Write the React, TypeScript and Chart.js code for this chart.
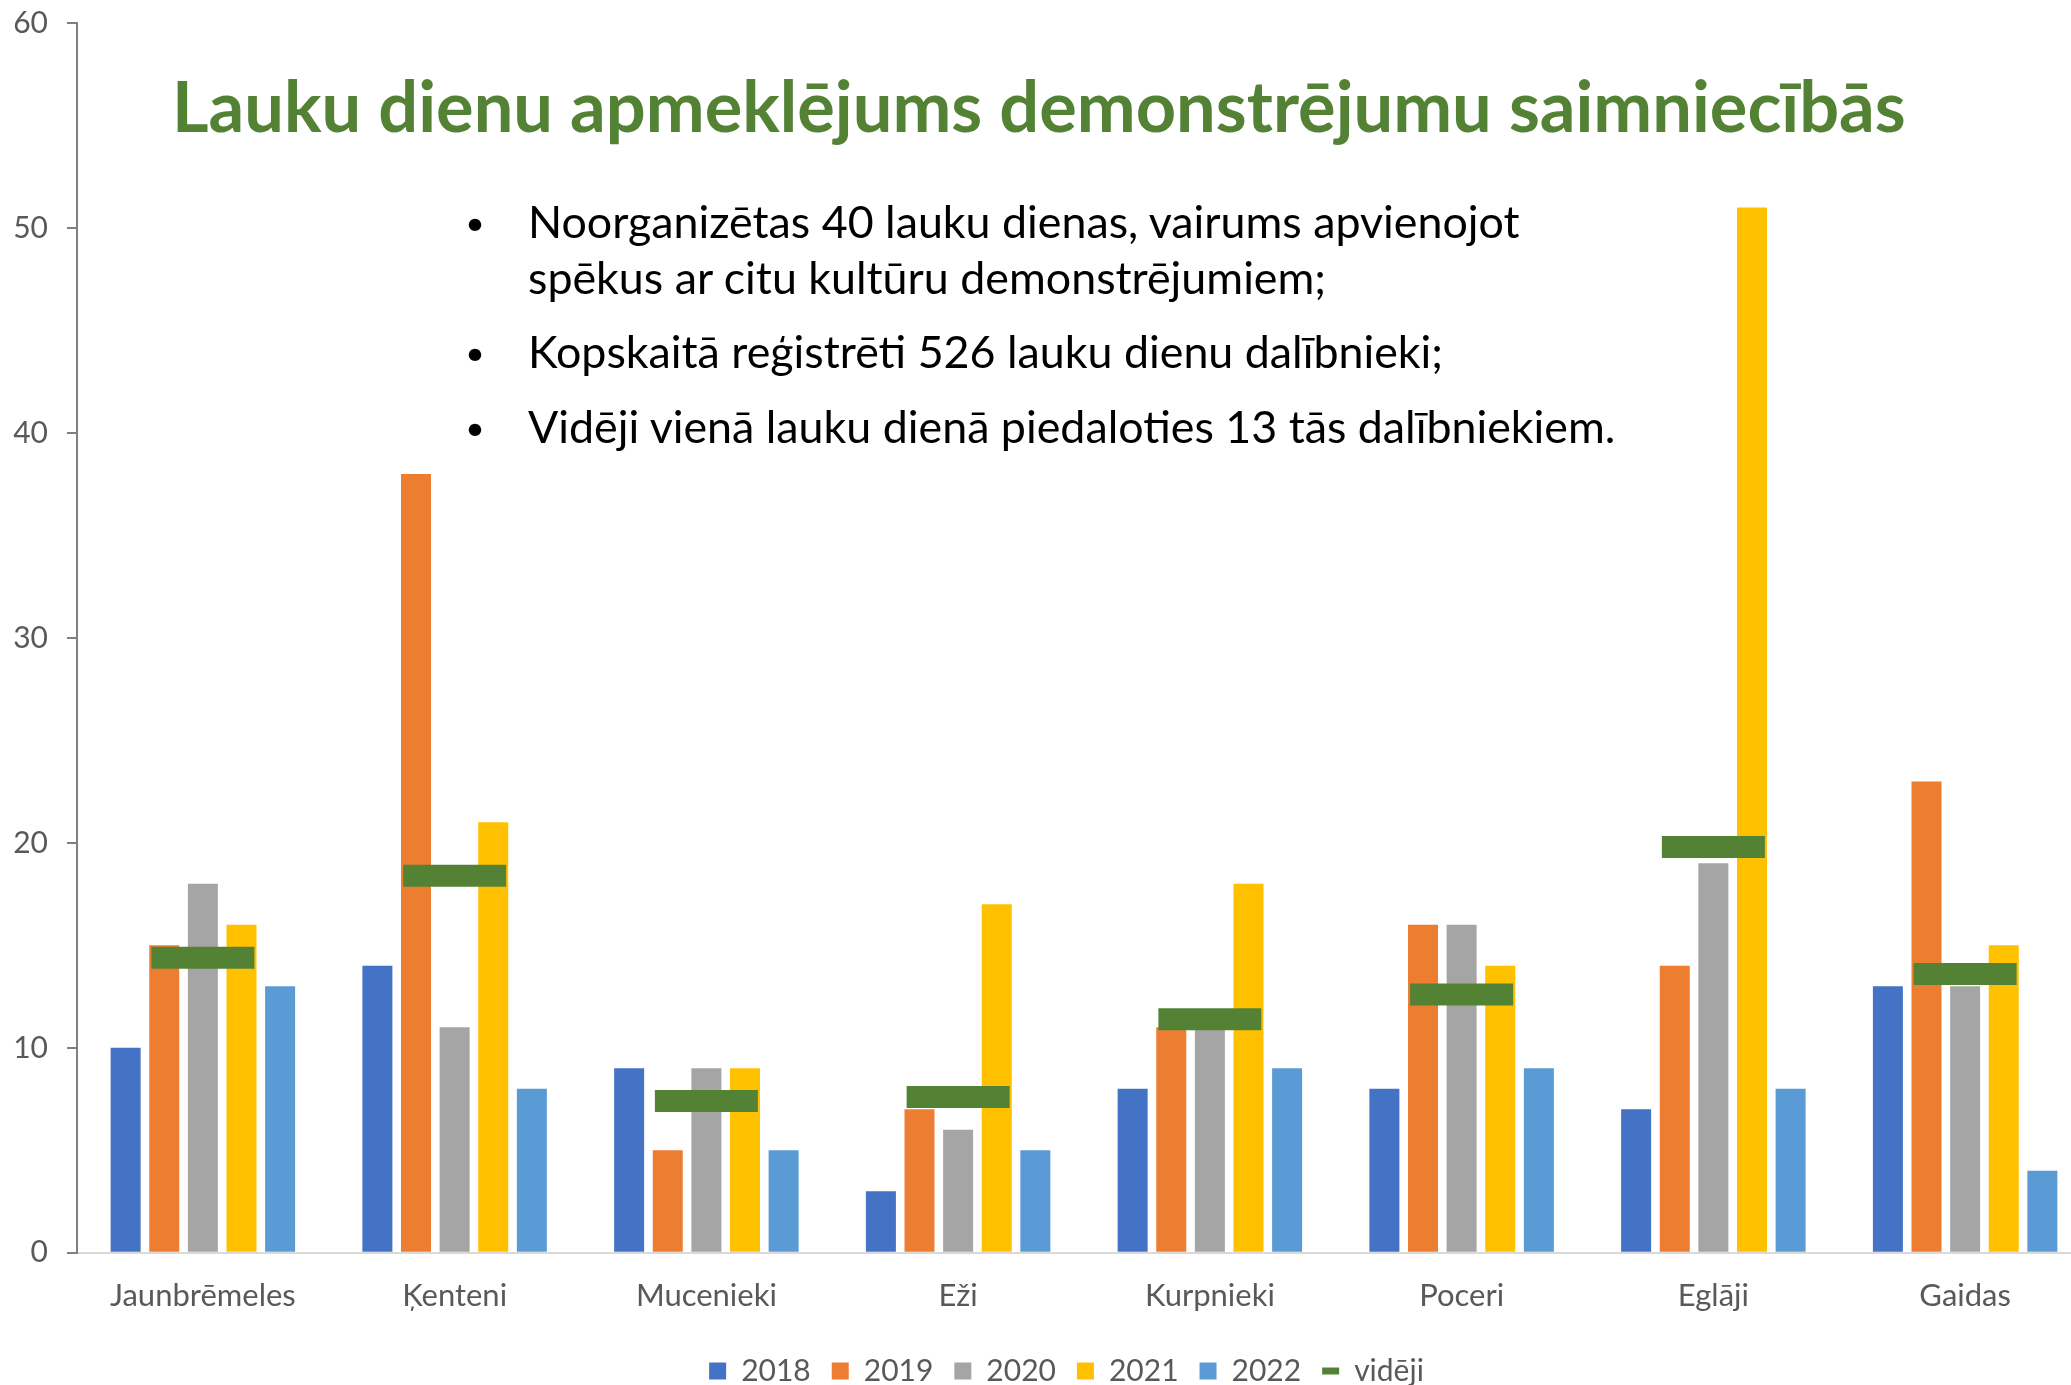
import React, { useEffect, useMemo, useRef } from "react";
import { Chart, registerables } from "chart.js";

Chart.register(...registerables);

const categories = ["Jaunbrēmeles", "Ķenteni", "Mucenieki", "Eži", "Kurpnieki", "Poceri", "Eglāji", "Gaidas"];
const seriesLabels = ["2018", "2019", "2020", "2021", "2022"];
const values2018 = [10, 14, 9, 3, 8, 8, 7, 13];
const values2019 = [15, 38, 5, 7, 11, 16, 14, 23];
const values2020 = [18, 11, 9, 6, 11, 16, 19, 13];
const values2021 = [16, 21, 9, 17, 18, 14, 51, 15];
const values2022 = [13, 8, 5, 5, 9, 9, 8, 4];
const averageLabel = "vidēji";
const averageValues = [14.4, 18.4, 7.4, 7.6, 11.4, 12.6, 19.8, 13.6];
const yTickValues = [0, 10, 20, 30, 40, 50, 60];

const titleText = "Lauku dienu apmeklējums demonstrējumu saimniecībās";
const bulletItems = [
  ["Noorganizētas 40 lauku dienas, vairums apvienojot", "spēkus ar citu kultūru demonstrējumiem;"],
  ["Kopskaitā reģistrēti 526 lauku dienu dalībnieki;"],
  ["Vidēji vienā lauku dienā piedaloties 13 tās dalībniekiem."],
];

const barColors = ["#4472C4", "#ED7D31", "#A5A5A5", "#FFC000", "#5B9BD5"];
const green = "#548235";
const FONT = "Lato, 'Open Sans', sans-serif";

function fitSize(text: string, weight: string, target: number): number {
  const ctx = document.createElement("canvas").getContext("2d");
  if (!ctx) return 40;
  ctx.font = `${weight} 100px Lato`;
  const w = ctx.measureText(text).width;
  return (100 * target) / w;
}

export default function App() {
  const canvasRef = useRef<HTMLCanvasElement | null>(null);

  const titleSize = useMemo(() => fitSize(titleText, "bold", 1734), []);
  const bulletSize = useMemo(() => fitSize(bulletItems[2][0], "normal", 1089), []);

  useEffect(() => {
    const canvas = canvasRef.current;
    if (!canvas) return;
    const allSeries = [values2018, values2019, values2020, values2021, values2022];
    const chart = new Chart(canvas, {
      type: "bar",
      data: {
        labels: categories,
        datasets: [
          ...allSeries.map((d, i) => ({
            type: "bar" as const,
            label: seriesLabels[i],
            data: d,
            backgroundColor: barColors[i],
            borderWidth: 0,
            order: 1,
            categoryPercentage: 0.767,
            barPercentage: 0.777,
          })),
          {
            type: "line" as const,
            label: averageLabel,
            data: averageValues,
            showLine: false,
            pointStyle: "line",
            pointRadius: 51.5,
            pointHoverRadius: 51.5,
            pointBorderWidth: 22,
            pointHoverBorderWidth: 22,
            borderColor: green,
            backgroundColor: green,
            clip: false,
            order: 0,
          } as any,
        ],
      },
      options: {
        responsive: false,
        animation: false,
        layout: { autoPadding: false, padding: { left: 0, right: 41, top: 23, bottom: 0 } },
        plugins: {
          tooltip: { enabled: false },
          legend: {
            position: "bottom",
            labels: {
              usePointStyle: true,
              pointStyleWidth: 17,
              boxWidth: 17,
              boxHeight: 17,
              padding: 21,
              color: "#595959",
              font: { family: FONT, size: 30 },
              generateLabels: (ch: any) => {
                const items = (Chart.defaults.plugins.legend.labels as any).generateLabels(ch);
                items.sort((a: any, b: any) => a.datasetIndex - b.datasetIndex);
                return items.map((it: any) => {
                  const isLine = it.datasetIndex === 5;
                  const col = isLine ? green : barColors[it.datasetIndex];
                  return {
                    ...it,
                    pointStyle: isLine ? "line" : "rect",
                    lineWidth: isLine ? 7 : 0,
                    strokeStyle: col,
                    fillStyle: col,
                    fontColor: "#595959",
                  };
                });
              },
            },
          },
        },
        scales: {
          x: {
            grid: { display: false },
            border: { color: "#D9D9D9", width: 2 },
            ticks: {
              color: "#595959",
              font: { family: FONT, size: 31 },
              padding: 17,
              maxRotation: 0,
              autoSkip: false,
            },
            afterFit: (s: any) => {
              s.height = s.height + 3;
            },
          },
          y: {
            min: 0,
            max: 60,
            grid: { drawOnChartArea: false, drawTicks: true, tickLength: 10, color: "#808080", lineWidth: 2 },
            border: { color: "#808080", width: 2 },
            ticks: {
              color: "#595959",
              font: { family: FONT, size: 30, lineHeight: 0.2 },
              padding: 19,
            },
            afterBuildTicks: (s: any) => {
              s.ticks = yTickValues.map((v) => ({ value: v }));
            },
            afterFit: (s: any) => {
              s.width = 77;
            },
          },
          yRight: {
            position: "right",
            display: true,
            grid: { display: false },
            border: { display: false },
            ticks: { display: false },
            afterFit: (s: any) => {
              s.width = 42;
            },
          },
        },
      },
    } as any);
    return () => chart.destroy();
  }, []);

  const lineCenters = [227, 283, 357, 432];
  let lineIdx = 0;
  const bulletEls: React.ReactNode[] = [];
  bulletItems.forEach((item, bi) => {
    item.forEach((line, li) => {
      const c = lineCenters[lineIdx++];
      const top = c - 0.634 * bulletSize;
      if (li === 0) {
        const ds = bulletSize * 0.75;
        bulletEls.push(
          <div
            key={`d${bi}`}
            style={{
              position: "absolute",
              left: 455,
              width: 40,
              top: c - 0.634 * ds,
              textAlign: "center",
              fontFamily: FONT,
              fontSize: ds,
              lineHeight: 1,
              color: "#000",
            }}
          >
            •
          </div>
        );
      }
      bulletEls.push(
        <div
          key={`l${bi}-${li}`}
          style={{
            position: "absolute",
            left: 528,
            top,
            whiteSpace: "nowrap",
            fontFamily: FONT,
            fontSize: bulletSize,
            lineHeight: 1,
            color: "#000",
          }}
        >
          {line}
        </div>
      );
    });
  });

  return (
    <div
      style={{
        position: "fixed",
        left: 0,
        top: 0,
        width: 2071,
        height: 1385,
        overflow: "hidden",
        background: "#fff",
      }}
    >
      <canvas
        ref={canvasRef}
        width={2174}
        height={1396}
        style={{ position: "absolute", left: 0, top: 0, width: 2174, height: 1396 }}
      />
      <div
        style={{
          position: "absolute",
          left: 172,
          top: 132 - 0.887 * titleSize,
          whiteSpace: "nowrap",
          fontFamily: FONT,
          fontWeight: "bold",
          fontSize: titleSize,
          lineHeight: 1,
          color: green,
        }}
      >
        {titleText}
      </div>
      {bulletEls}
    </div>
  );
}
